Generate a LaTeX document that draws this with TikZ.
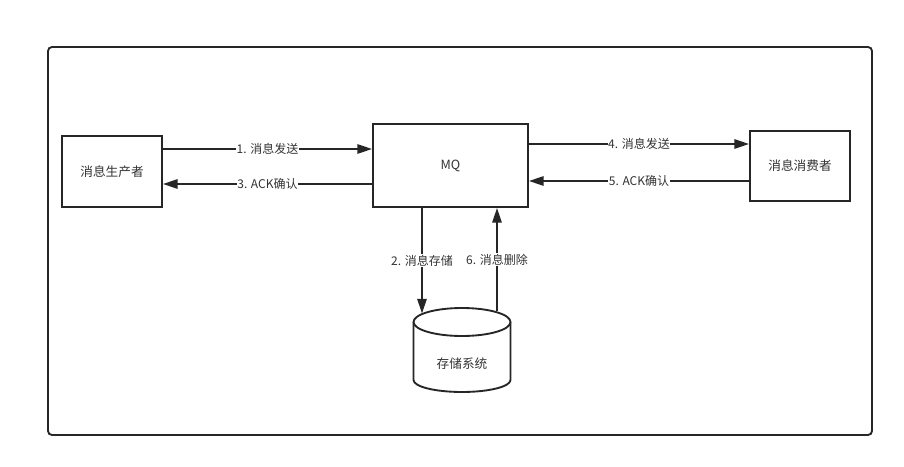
\documentclass[tikz,border=0pt]{standalone}
\usepackage{fontspec}
\setmainfont{Noto Sans CJK SC}
\usepackage{tikz}
\usetikzlibrary{arrows.meta}

\tikzset{
  box/.style={draw=black!85, line width=1.4pt, fill=white, text=black!80},
  arr/.style={draw=black!85, line width=1.4pt, -{Triangle[length=11pt,width=7pt]}},
  lbl/.style={fill=white, text=black!80, inner sep=0.5pt, font=\fontsize{9}{10}\selectfont}
}

\begin{document}
\begin{tikzpicture}[x=0.75pt, y=-0.75pt, font=\fontsize{9.5}{11}\selectfont]
        \useasboundingbox (0,0) rectangle (904,467);
        \draw[draw=black!85, line width=1.4pt, rounded corners=3pt] (48,47) rectangle (872,435);

        \node[box, minimum width=100*0.75pt, minimum height=71*0.75pt](Prod) at (112,171.5) {消息生产者};
        \node[box, minimum width=155*0.75pt, minimum height=83*0.75pt](MQ) at (450.5,165.5) {MQ};
        \node[box, minimum width=100*0.75pt, minimum height=70*0.75pt](Cons) at (800,166) {消息消费者};

        % storage cylinder
        \draw[box] (413.5,322) -- (413.5,380) arc[start angle=180, end angle=0, x radius=48.5, y radius=12] -- (510.5,322);
        \draw[box] (462,322) ellipse[x radius=48.5, y radius=14];
        \node[text=black!80](Store) at (462,364) {存储系统};

        \coordinate(A1) at (0,149);
        \coordinate(A3) at (0,184);
        \coordinate(A4) at (0,144);
        \coordinate(A5) at (0,181);
        \coordinate(S2) at (422,313.5);
        \coordinate(S6) at (497,311);

        \draw[arr] (Prod.east |- A1) -- node[lbl]{1. 消息发送} (MQ.west |- A1);
        \draw[arr] (MQ.west |- A3) -- node[lbl]{3. ACK确认} (Prod.east |- A3);
        \draw[arr] (MQ.east |- A4) -- node[lbl]{4. 消息发送} (Cons.west |- A4);
        \draw[arr] (Cons.west |- A5) -- node[lbl]{5. ACK确认} (MQ.east |- A5);
        \draw[arr] (MQ.south -| S2) -- node[lbl]{2. 消息存储} (S2);
        \draw[arr] (S6) -- node[lbl]{6. 消息删除} (MQ.south -| S6);
      \end{tikzpicture}
\end{document}
